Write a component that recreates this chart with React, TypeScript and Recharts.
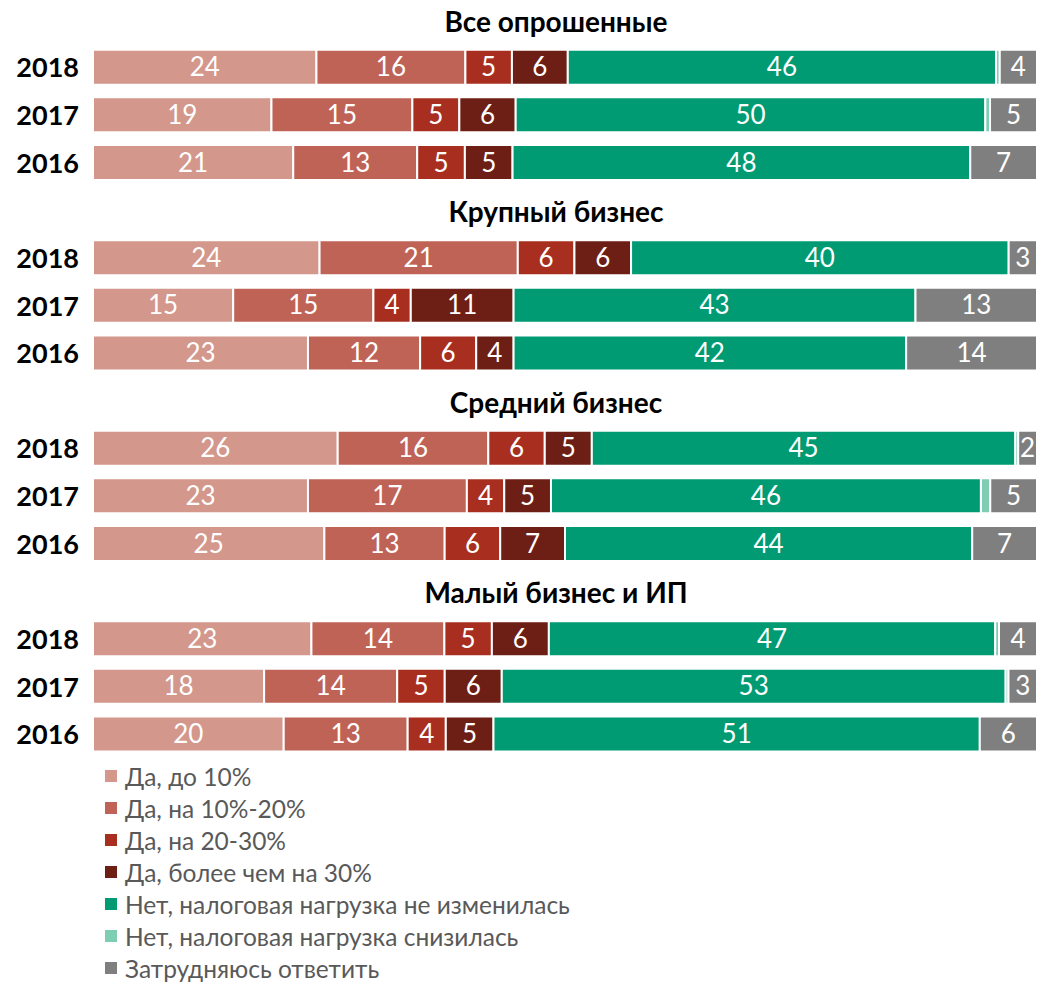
import React from 'react';
import { BarChart, Bar, XAxis, YAxis, LabelList } from 'recharts';

const GROUPS = ['Все опрошенные', 'Крупный бизнес', 'Средний бизнес', 'Малый бизнес и ИП'];
const YEARS = ['2018', '2017', '2016'];

// values per row: group by group, years 2018, 2017, 2016
const upTo10 = [24, 19, 21, 24, 15, 23, 26, 23, 25, 23, 18, 20];
const up10to20 = [16, 15, 13, 21, 15, 12, 16, 17, 13, 14, 14, 13];
const up20to30 = [5, 5, 5, 6, 4, 6, 6, 4, 6, 5, 5, 4];
const upOver30 = [6, 6, 5, 6, 11, 4, 5, 5, 7, 6, 6, 5];
const noChange = [46, 50, 48, 40, 43, 42, 45, 46, 44, 47, 53, 51];
const lowered = [0.4, 0.5, 0, 0, 0, 0, 0.3, 1, 0, 0.4, 0.3, 0];
const dontKnow = [4, 5, 7, 3, 13, 14, 2, 5, 7, 4, 3, 6];

const SERIES = [
  { key: 'upTo10', name: 'Да, до 10%', color: '#D3978B', values: upTo10, label: true },
  { key: 'up10to20', name: 'Да, на 10%-20%', color: '#BF6356', values: up10to20, label: true },
  { key: 'up20to30', name: 'Да, на 20-30%', color: '#A82F20', values: up20to30, label: true },
  { key: 'upOver30', name: 'Да, более чем на 30%', color: '#6D1F15', values: upOver30, label: true },
  { key: 'noChange', name: 'Нет, налоговая нагрузка не изменилась', color: '#009B73', values: noChange, label: true },
  { key: 'lowered', name: 'Нет, налоговая нагрузка снизилась', color: '#7FCDB3', values: lowered, label: false },
  { key: 'dontKnow', name: 'Затрудняюсь ответить', color: '#7F7F7F', values: dontKnow, label: true },
];

type Row = { [k: string]: string | number | boolean | undefined };

// title row + three year rows per group
const rows: Row[] = [];
GROUPS.forEach((g, gi) => {
  rows.push({ id: 'g' + gi, label: g, title: true });
  YEARS.forEach((y, yi) => {
    const idx = gi * 3 + yi;
    const r: Row = { id: 'g' + gi + '-' + y, label: y, title: false };
    SERIES.forEach((s) => {
      r[s.key] = s.values[idx];
    });
    rows.push(r);
  });
});

const byId: Record<string, Row> = {};
rows.forEach((r) => {
  byId[r.id as string] = r;
});

const FONT = 'Lato, "Open Sans", sans-serif';

const YTick = (props: any) => {
  const { y, payload } = props;
  const row = byId[payload.value];
  if (!row) return null;
  if (row.title) {
    return (
      <text x={556} y={y} dy={12} textAnchor="middle" fontSize={28} fontWeight={700} fill="#000" fontFamily={FONT}>
        {row.label as string}
      </text>
    );
  }
  return (
    <text x={79} y={y} dy={10} textAnchor="end" fontSize={27} fontWeight={700} fill="#000" fontFamily={FONT}>
      {row.label as string}
    </text>
  );
};

const LegendList = () => (
  <div
    style={{
      position: 'absolute',
      left: 105,
      top: 760,
      fontFamily: FONT,
      fontSize: 24.5,
      color: '#595959',
      whiteSpace: 'nowrap',
    }}
  >
    {SERIES.map((s) => (
      <div key={s.key} style={{ display: 'flex', alignItems: 'center', height: 32 }}>
        <span style={{ display: 'inline-block', width: 12, height: 12, background: s.color, marginRight: 8 }} />
        <span>{s.name}</span>
      </div>
    ))}
  </div>
);

export default function App() {
  return (
    <div style={{ position: 'absolute', left: 0, top: 0, width: 1037, height: 987 }}>
      <div style={{ position: 'absolute', left: 0, top: -4 }}>
        <BarChart
          width={1037}
          height={766}
          data={rows}
          layout="vertical"
          stackOffset="expand"
          barSize={35}
          margin={{ top: 0, right: 0, bottom: 4, left: 0 }}
        >
          <XAxis type="number" hide domain={[0, 1]} />
          <YAxis
            type="category"
            dataKey="id"
            width={93}
            axisLine={false}
            tickLine={false}
            tick={<YTick />}
            interval={0}
          />
          {SERIES.map((s) => (
            <Bar
              key={s.key}
              dataKey={s.key}
              name={s.name}
              stackId="a"
              fill={s.color}
              stroke="#fff"
              strokeWidth={2}
              isAnimationActive={false}
            >
              {s.label && (
                <LabelList
                  dataKey={s.key}
                  position="center"
                  fill="#fff"
                  fontSize={26}
                  fontFamily={FONT}
                  formatter={(v: any) => (v ? v : '')}
                />
              )}
            </Bar>
          ))}
        </BarChart>
      </div>
      <LegendList />
    </div>
  );
}
